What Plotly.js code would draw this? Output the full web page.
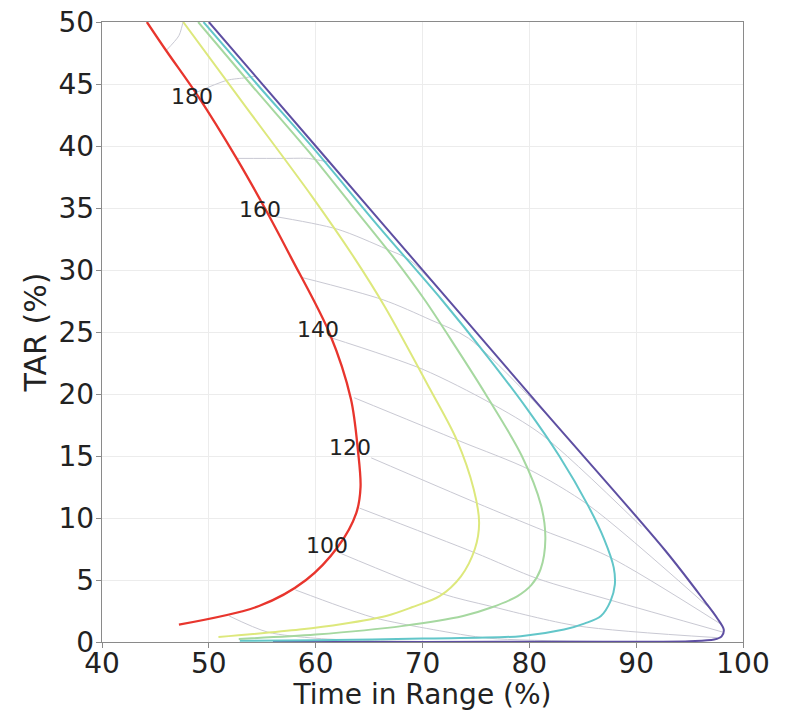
<!DOCTYPE html>
<html>
<head>
<meta charset="utf-8">
<script src="https://cdn.plot.ly/plotly-3.0.1.min.js"></script>
<style>html,body{margin:0;padding:0;background:#fff;}#chart{width:795px;height:711px;}</style>
</head>
<body>
<div id="chart"></div>
<script>
// ---- Coloured curves (one per CV level): Time in Range (x) vs TAR (y) ----
const redX    = [44.2, 46.0, 49.0, 52.6, 55.3, 57.7, 61.3, 63.3, 63.95, 64.2, 63.8, 62.1, 59.1, 54.7, 47.2];
const redY    = [50.0, 47.7, 44.0, 39.0, 34.9, 31.0, 24.9, 19.6, 15.5, 12.5, 10.4, 7.7, 5.0, 2.9, 1.4];

const yellowX = [47.6, 53.6, 59.6, 63.6, 66.5, 70.7, 73.2, 74.8, 75.3, 74.9, 73.6, 71.6, 69.0, 66.6, 62.5, 58.5, 50.9];
const yellowY = [50.0, 43.0, 36.0, 31.0, 27.0, 20.4, 16.3, 12.3, 9.6, 7.5, 5.3, 3.7, 2.8, 2.1, 1.45, 1.0, 0.4];

const greenX  = [49.0, 54.1, 59.2, 63.3, 67.3, 70.2, 73.1, 75.9, 79.3, 81.1, 81.5, 81.05, 80.2, 78.9, 76.5, 73.8, 68.2, 60.0, 52.8];
const greenY  = [50.0, 44.8, 39.7, 35.3, 31.0, 27.6, 23.8, 20.0, 15.0, 11.0, 8.3, 5.85, 4.6, 3.7, 2.8, 2.1, 1.3, 0.6, 0.25];

const cyanX   = [49.5, 54.7, 59.9, 65.8, 71.8, 76.1, 79.7, 82.8, 85.5, 87.0, 87.9, 88.0, 87.6, 86.7, 85.2, 83.25, 79.2, 70.0, 60.0, 52.9];
const cyanY   = [50.0, 44.8, 39.7, 33.6, 27.6, 23.0, 18.9, 15.0, 11.0, 8.3, 6.0, 4.6, 3.3, 2.1, 1.5, 1.0, 0.47, 0.28, 0.15, 0.1];

const purpleX = [50.0, 60.2, 72.9, 81.0, 92.7, 96.4, 97.6, 98.2, 98.0, 97.3, 95.0, 85.0, 70.0, 56.0];
const purpleY = [50.0, 39.8, 27.1, 19.0, 7.4, 3.3, 1.9, 1.0, 0.45, 0.2, 0.07, 0.02, 0.01, 0.0];

// ---- Grey iso-mean-glucose lines (mg/dL) ----
const mean80X  = [51.9, 55.5, 60.0, 65.0, 72.0];
const mean80Y  = [2.1, 0.8, 0.3, 0.12, 0.02];
const mean90X  = [58.1, 62.2, 65.5, 71.0, 76.3, 88.0];
const mean90Y  = [4.2, 2.9, 1.95, 1.0, 0.3, 0.03];
const mean100X = [62.2, 71.8, 76.3, 84.5, 97.6];
const mean100Y = [7.2, 3.9, 2.9, 1.3, 0.35];
const mean110X = [64.1, 74.9, 80.8, 87.5, 98.1];
const mean110Y = [10.8, 7.2, 5.1, 3.4, 0.8];
const mean120X = [65.2, 75.1, 81.3, 87.4, 98.0];
const mean120Y = [14.85, 11.2, 9.0, 6.9, 1.4];
const mean130X = [63.6, 73.5, 80.0, 85.6, 97.3];
const mean130Y = [19.7, 16.2, 13.9, 11.0, 2.4];
const mean140X = [61.2, 70.0, 76.3, 81.2, 90.5];
const mean140Y = [24.6, 22.0, 19.3, 16.7, 9.3];
const mean150X = [58.7, 66.3, 70.7, 74.3, 82.0];
const mean150Y = [29.4, 27.6, 26.0, 24.5, 18.0];
const mean160X = [55.6, 62.0, 66.6, 68.8, 73.5];
const mean160Y = [34.4, 33.3, 31.7, 30.8, 26.5];
const mean170X = [52.6, 57.0, 59.3, 60.0, 61.3];
const mean170Y = [39.0, 39.0, 39.0, 38.9, 38.7];
const mean180X = [48.5, 51.7, 53.4, 54.0, 54.4];
const mean180Y = [44.2, 45.3, 45.5, 45.6, 45.6];
const mean190X = [46.0, 47.2, 47.6, 48.0];
const mean190Y = [47.7, 48.9, 50.0, 50.8];

// ---- Contour labels ----
const labelText = ['100', '120', '140', '160', '180'];
const labelX    = [61.1, 63.2, 60.2, 54.8, 48.4];
const labelY    = [7.8, 15.7, 25.2, 34.9, 44.0];

// ---- Axis ticks ----
const xTicks = [40, 50, 60, 70, 80, 90, 100];
const yTicks = [0, 5, 10, 15, 20, 25, 30, 35, 40, 45, 50];

const greyX = [mean80X, mean90X, mean100X, mean110X, mean120X, mean130X, mean140X, mean150X, mean160X, mean170X, mean180X, mean190X];
const greyY = [mean80Y, mean90Y, mean100Y, mean110Y, mean120Y, mean130Y, mean140Y, mean150Y, mean160Y, mean170Y, mean180Y, mean190Y];

const traces = [];
greyX.forEach((gx, i) => {
  traces.push({x: gx, y: greyY[i], mode: 'lines', type: 'scatter', hoverinfo: 'skip',
    line: {color: '#c9c9d3', width: 1, shape: 'spline', smoothing: 0.8}});
});
const curves = [
  [purpleX, purpleY, '#5e4fa2', 2.0],
  [cyanX, cyanY, '#62c6c9', 2.0],
  [greenX, greenY, '#a6d8a0', 2.0],
  [yellowX, yellowY, '#dde87c', 2.0],
  [redX, redY, '#e8352d', 2.3]
];
curves.forEach(c => {
  traces.push({x: c[0], y: c[1], mode: 'lines', type: 'scatter',
    line: {color: c[2], width: c[3], shape: 'spline', smoothing: 0.9}});
});

const annotations = labelText.map((t, i) => ({
  x: labelX[i], y: labelY[i], text: t, showarrow: false, xref: 'x', yref: 'y',
  font: {family: 'DejaVu Sans', size: 22, color: '#222'}
}));

const axisCommon = {
  showline: true, mirror: true, linecolor: '#8a8a8a', linewidth: 1.2,
  ticks: 'outside', ticklen: 5, tickcolor: '#8a8a8a', tickwidth: 1,
  showgrid: true, gridcolor: '#ececec', gridwidth: 1, zeroline: false,
  tickfont: {family: 'DejaVu Sans', size: 28, color: '#222'}
};

const layout = {
  width: 795, height: 711,
  margin: {l: 102, r: 52, t: 22, b: 69},
  paper_bgcolor: '#fff', plot_bgcolor: '#fff',
  showlegend: false,
  xaxis: Object.assign({}, axisCommon, {
    range: [40, 100], tickvals: xTicks, ticktext: xTicks.map(String),
    ticklabelstandoff: -9,
    title: {text: 'Time in Range (%)', font: {family: 'DejaVu Sans', size: 28, color: '#222'}, standoff: 0}
  }),
  yaxis: Object.assign({}, axisCommon, {
    range: [0, 50], tickvals: yTicks, ticktext: yTicks.map(String),
    ticklabelstandoff: -4,
    title: {text: 'TAR (%)', font: {family: 'DejaVu Sans', size: 30, color: '#222'}, standoff: 3}
  }),
  annotations: annotations
};

Plotly.newPlot('chart', traces, layout, {displayModeBar: false, staticPlot: true});
</script>
</body>
</html>
